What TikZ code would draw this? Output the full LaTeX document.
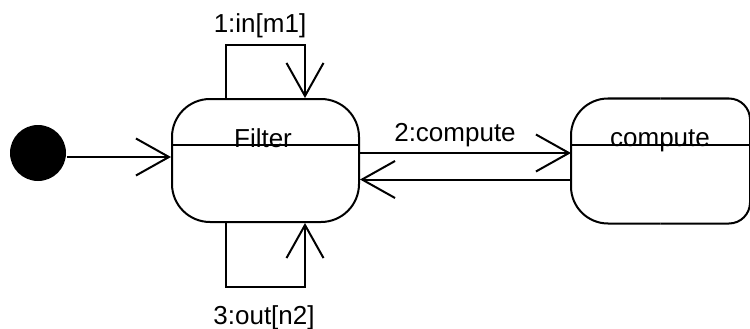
\documentclass[tikz,border=0pt]{standalone}
\usepackage{fontspec}
\setmainfont{Liberation Sans}
\usetikzlibrary{arrows.meta}
\begin{document}
\begin{tikzpicture}[x=1pt,y=-1pt,
  every path/.style={line width=2pt},
  statebox/.style={rounded corners=38pt,minimum width=#1,minimum height=123pt,inner sep=0pt},
  lbl/.style={inner sep=0pt,anchor=base,font=\fontsize{26}{30}\selectfont},
  arr/.style={-{Straight Barb[length=33pt,width=37pt]}},
  initst/.style={circle,fill=black,minimum size=56pt,inner sep=0pt}]
\useasboundingbox (0,0) rectangle (750,329);
% states
\node[initst] (init) at (38,153) {};
\node[statebox=187pt,draw] (filter) at (265.5,160.5) {};
\node[statebox=177pt] (compute) at (660.5,161) {};
\draw[rounded corners=37pt] (compute.north) -| (compute.south west) -- (compute.south);
\draw[rounded corners=21pt] (compute.south) -| (compute.north east) -- (compute.north);
% titles and dividers
\node[lbl] (ftitle) at (263,147) {Filter};
\node[lbl] (ctitle) at (660,146) {compute};
\draw (filter.west |- ftitle.base) ++(0,-2) coordinate (fd1) -- (fd1 -| filter.east);
\draw (compute.west |- ctitle.base) ++(0,-1) coordinate (cd1) -- (cd1 -| compute.east);
% initial transition
\draw[arr] ([yshift=-4pt]init.east) -- ([yshift=-4pt]init.east -| filter.west);
% self loops
\draw[arr] ([xshift=-39.5pt]filter.north) -- ++(0,-53) -| ([xshift=39.5pt]filter.north);
\draw[arr] ([xshift=-39.5pt]filter.south) -- ++(0,64) -| ([xshift=39.5pt]filter.south);
\node[lbl] (l1) at (260,33) {1:in[m1]};
\node[lbl] (l3) at (264,324) {3:out[n2]};
% filter <-> compute
\draw[arr] ([yshift=7.5pt]filter.east) -- ([yshift=7.5pt]filter.east -| compute.west);
\draw[arr] ([yshift=-18.5pt]compute.west) -- ([yshift=-18.5pt]compute.west -| filter.east);
\node[lbl] (l2) at (455,141) {2:compute};
\end{tikzpicture}
\end{document}
